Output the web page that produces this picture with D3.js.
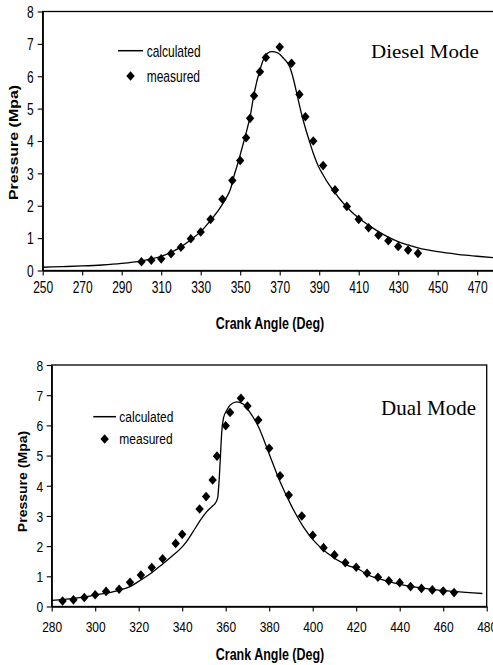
<!DOCTYPE html>
<meta charset="utf-8">
<style>
    body { margin: 0; background: #fff; }
    svg { display: block; }
    text { font-family: "Liberation Sans", Arial, sans-serif; fill: #000; }
    text.mode { font-family: "Liberation Serif", "Times New Roman", serif; }
</style>

<!-- Load d3.js -->
<script src="https://d3js.org/d3.v7.min.js"></script>

<div id="my_dataviz"></div>

<script>
    // ---- data ----
    // Diesel mode (top panel)
    var dieselMeasAngle = [300, 305, 310, 315, 320, 325, 330, 335, 341, 346, 350, 353, 355, 357, 360, 363, 370, 376, 380, 383, 387, 392, 398, 404, 410, 415, 420, 425, 430, 435, 440];
    var dieselMeasPress = [0.27, 0.32, 0.36, 0.52, 0.72, 0.98, 1.19, 1.58, 2.2, 2.78, 3.4, 4.1, 4.7, 5.4, 6.14, 6.58, 6.9, 6.4, 5.44, 4.75, 4.0, 3.24, 2.49, 1.98, 1.58, 1.32, 1.09, 0.92, 0.74, 0.63, 0.53];
    var dieselCalcAngle = [250, 260, 270, 280, 290, 300, 305, 310, 315, 320, 325, 330, 335, 340, 343, 345, 347, 349, 351, 353, 355, 357, 360, 362, 364, 366, 369, 372, 375, 377, 379, 381, 383, 385, 387, 389.5, 392, 395, 398, 400, 404, 408, 412, 416, 420, 425, 430, 435, 440, 450, 460, 470, 480, 490];
    var dieselCalcPress = [0.1, 0.12, 0.14, 0.17, 0.22, 0.3, 0.36, 0.44, 0.56, 0.73, 0.95, 1.2, 1.55, 1.95, 2.25, 2.5, 2.95, 3.35, 3.8, 4.25, 4.75, 5.45, 6.2, 6.55, 6.72, 6.76, 6.72, 6.55, 6.3, 5.9, 5.37, 4.85, 4.4, 4.0, 3.62, 3.23, 2.95, 2.65, 2.4, 2.24, 1.96, 1.72, 1.53, 1.36, 1.2, 1.03, 0.89, 0.79, 0.7, 0.58, 0.5, 0.44, 0.39, 0.35];

    // Dual mode (bottom panel)
    var dualMeasAngle = [285, 290, 295, 300, 305, 311, 316, 321, 326, 331, 337, 340, 348, 351, 354, 356, 360, 362, 367, 370, 375, 380, 385, 389, 395, 400, 405, 410, 415, 420, 425, 430, 435, 440, 445, 450, 455, 460, 465];
    var dualMeasPress = [0.18, 0.22, 0.3, 0.39, 0.5, 0.57, 0.8, 1.04, 1.29, 1.58, 2.09, 2.39, 3.23, 3.64, 4.19, 4.98, 5.99, 6.43, 6.9, 6.64, 6.18, 5.24, 4.33, 3.69, 3.0, 2.36, 1.95, 1.71, 1.45, 1.3, 1.1, 0.97, 0.85, 0.79, 0.66, 0.6, 0.55, 0.51, 0.46];
    var dualCalcAngle = [280, 290, 300, 310, 316, 321, 326, 331, 335, 339, 342, 345, 348, 351, 354, 355, 356.3, 357, 357.6, 358.2, 359, 360.5, 362, 365, 368, 371, 375, 379.6, 385, 390.4, 395.7, 400.3, 406.5, 415.7, 421.8, 425, 430, 440, 455, 465, 478];
    var dualCalcPress = [0.2, 0.27, 0.38, 0.52, 0.66, 0.88, 1.12, 1.41, 1.65, 1.9, 2.15, 2.48, 2.82, 3.12, 3.33, 3.4, 3.6, 4.2, 5.0, 5.8, 6.25, 6.5, 6.67, 6.78, 6.71, 6.45, 5.96, 5.13, 4.13, 3.31, 2.64, 2.2, 1.78, 1.37, 1.21, 1.06, 0.93, 0.73, 0.57, 0.5, 0.43];

    var dieselTicks = [250, 270, 290, 310, 330, 350, 370, 390, 410, 430, 450, 470];
    var dualTicks = [280, 300, 320, 340, 360, 380, 400, 420, 440, 460, 480];
    var pressTicks = [0, 1, 2, 3, 4, 5, 6, 7, 8];

    var svg = d3.select("#my_dataviz")
        .append("svg")
        .attr("width", 493)
        .attr("height", 665);

    function zip(a, b) {
        return a.map(function(v, i) { return { x: v, y: b[i] }; });
    }

    function drawPanel(o) {
        var g = svg.append("g");

        var x = d3.scaleLinear().domain(o.xDomain).range(o.xRange);
        var y = d3.scaleLinear().domain([0, 8]).range(o.yRange);

        // frame
        g.append("rect")
            .attr("x", o.xRange[0])
            .attr("y", o.yRange[1])
            .attr("width", o.xRange[1] - o.xRange[0])
            .attr("height", o.yRange[0] - o.yRange[1])
            .attr("fill", "none")
            .attr("stroke", "#000")
            .attr("stroke-width", 1.3);

        // X axis
        var xa = g.append("g")
            .attr("transform", "translate(0," + o.yRange[0] + ")")
            .call(d3.axisBottom(x).tickValues(o.xTicks).tickSize(5).tickSizeOuter(0));
        xa.select(".domain").attr("stroke-width", 1.3);
        xa.selectAll(".tick line").attr("stroke-width", 1.1);
        xa.selectAll("text")
            .attr("y", 0).attr("dy", null)
            .attr("font-size", 12)
            .attr("transform", "translate(0," + o.xLabelDy + ") scale(1," + o.sy + ")");

        // Y axis
        var ya = g.append("g")
            .attr("transform", "translate(" + o.xRange[0] + ",0)")
            .call(d3.axisLeft(y).tickValues(pressTicks).tickSize(5).tickSizeOuter(0));
        ya.select(".domain").attr("stroke-width", 1.3);
        ya.selectAll(".tick line").attr("stroke-width", 1.1);
        ya.selectAll("text")
            .attr("x", 0).attr("dy", null)
            .attr("font-size", 12)
            .attr("transform", "translate(" + (-o.yLabelGap) + "," + (4.3 * o.sy) + ") scale(1," + o.sy + ")");

        // axis titles
        g.append("text")
            .attr("text-anchor", "middle")
            .attr("font-size", 12.5)
            .attr("font-weight", "bold")
            .attr("transform", "translate(" + o.xTitle[0] + "," + o.xTitle[1] + ") scale(1," + o.sy + ")")
            .text("Crank Angle (Deg)");

        g.append("text")
            .attr("text-anchor", "middle")
            .attr("font-size", 12)
            .attr("font-weight", "bold")
            .attr("dy", "0.35em")
            .attr("transform", "translate(" + o.yTitle[0] + "," + o.yTitle[1] + ") rotate(-90) scale(" + o.yTitle[2] + ",1)")
            .text("Pressure (Mpa)");

        // calculated curve
        var line = d3.line()
            .x(function(d) { return x(d.x); })
            .y(function(d) { return y(d.y); })
            .curve(d3.curveMonotoneX);

        g.append("path")
            .datum(zip(o.calcX, o.calcY))
            .attr("d", line)
            .attr("fill", "none")
            .attr("stroke", "#000")
            .attr("stroke-width", 1.3);

        // measured diamonds
        var diamond = "M0,-4.8L4.2,0L0,4.8L-4.2,0Z";
        g.selectAll("path.meas")
            .data(zip(o.measX, o.measY))
            .enter()
            .append("path")
            .attr("class", "meas")
            .attr("d", diamond)
            .attr("fill", "#000")
            .attr("transform", function(d) {
                return "translate(" + x(d.x) + "," + y(d.y) + ")";
            });

        // legend
        var lg = o.legend;
        g.append("line")
            .attr("x1", lg.x0).attr("x2", lg.x1)
            .attr("y1", lg.y).attr("y2", lg.y)
            .attr("stroke", "#000").attr("stroke-width", 1.5);
        g.append("path")
            .attr("d", diamond)
            .attr("fill", "#000")
            .attr("transform", "translate(" + ((lg.x0 + lg.x1) / 2) + "," + (lg.y + lg.gap) + ")");
        g.append("text")
            .attr("font-size", 12)
            .attr("transform", "translate(" + lg.tx + "," + (lg.y + 4.3 * o.sy) + ") scale(1," + o.sy + ")")
            .text("calculated");
        g.append("text")
            .attr("font-size", 12)
            .attr("transform", "translate(" + lg.tx + "," + (lg.y + lg.gap + 4.3 * o.sy) + ") scale(1," + o.sy + ")")
            .text("measured");

        // mode label
        g.append("text")
            .attr("class", "mode")
            .attr("font-size", 21)
            .attr("transform", "translate(" + o.mode[0] + "," + o.mode[1] + ") scale(1," + o.mode[3] + ")")
            .text(o.mode[2]);
    }

    drawPanel({
        xDomain: [250, 490],
        xRange: [42.7, 516.7],
        yRange: [270.5, 11.5],
        xTicks: dieselTicks,
        sy: 1.35,
        xLabelDy: 22,
        yLabelGap: 9,
        xTitle: [270, 328.5],
        yTitle: [13.5, 142.5, 1.33],
        calcX: dieselCalcAngle, calcY: dieselCalcPress,
        measX: dieselMeasAngle, measY: dieselMeasPress,
        legend: { x0: 118, x1: 143, y: 50.7, gap: 25.3, tx: 146.7 },
        mode: [371, 58, "Diesel Mode", 0.89]
    });

    drawPanel({
        xDomain: [280, 480],
        xRange: [51.7, 486.7],
        yRange: [606.5, 365],
        xTicks: dualTicks,
        sy: 1.25,
        xLabelDy: 25,
        yLabelGap: 8.5,
        xTitle: [270, 660],
        yTitle: [23, 481.5, 1.17],
        calcX: dualCalcAngle, calcY: dualCalcPress,
        measX: dualMeasAngle, measY: dualMeasPress,
        legend: { x0: 93.3, x1: 116, y: 416.7, gap: 22.3, tx: 119.3 },
        mode: [381, 414.5, "Dual Mode", 0.96]
    });
</script>
